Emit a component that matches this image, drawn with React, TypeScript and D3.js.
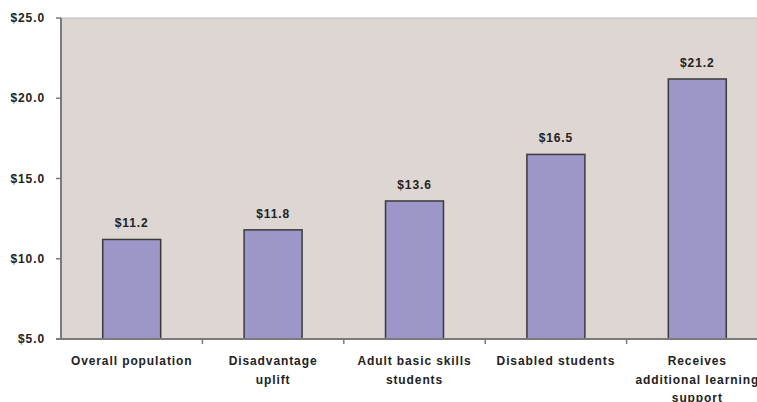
import * as d3 from "d3";
import { useEffect, useRef } from "react";

const categories = [
  ["Overall population"],
  ["Disadvantage", "uplift"],
  ["Adult basic skills", "students"],
  ["Disabled students"],
  ["Receives", "additional learning", "support"],
];
const values = [11.2, 11.8, 13.6, 16.5, 21.2];
const yTicks = [5, 10, 15, 20, 25];

const width = 757;
const height = 402;
const margin = { left: 61, top: 18, right: -11, bottom: 63 };

export default function App() {
  const svgRef = useRef<SVGSVGElement>(null);

  useEffect(() => {
    const svg = d3.select(svgRef.current);
    svg.selectAll("*").remove();

    const x = d3.scaleBand<number>()
      .domain(d3.range(values.length))
      .range([margin.left, width - margin.right])
      .paddingInner(0.59)
      .paddingOuter(0.295);
    const y = d3.scaleLinear().domain([5, 25]).range([height - margin.bottom, margin.top]);

    const font = "'Liberation Sans', Arial, sans-serif";
    const textStyle = (sel: any) => sel
      .attr("font-family", font)
      .attr("font-weight", "bold")
      .attr("font-size", "12px")
      .attr("letter-spacing", "0.9px")
      .attr("fill", "#222");

    // plot background
    svg.append("rect")
      .attr("x", margin.left)
      .attr("y", y(25))
      .attr("width", width - margin.right - margin.left)
      .attr("height", y(5) - y(25))
      .attr("fill", "#ddd6d3")
      .attr("stroke", "#bdb8b5")
      .attr("stroke-width", 1);

    // bars
    svg.append("g")
      .selectAll("rect")
      .data(values)
      .join("rect")
      .attr("x", (_, i) => x(i)!)
      .attr("y", d => y(d))
      .attr("width", x.bandwidth())
      .attr("height", d => y(5) - y(d))
      .attr("fill", "#9c96c9")
      .attr("stroke", "#3a3a3a")
      .attr("stroke-width", 1.5);

    // value labels
    svg.append("g")
      .selectAll("text")
      .data(values)
      .join("text")
      .attr("x", (_, i) => x(i)! + x.bandwidth() / 2)
      .attr("y", d => y(d) - 12)
      .attr("text-anchor", "middle")
      .call(textStyle)
      .text(d => `$${d.toFixed(1)}`);

    // y axis
    const axisColor = "#7a7a7a";
    svg.append("line")
      .attr("x1", margin.left).attr("x2", margin.left)
      .attr("y1", y(25)).attr("y2", y(5))
      .attr("stroke", axisColor).attr("stroke-width", 2);

    const yg = svg.append("g");
    yTicks.forEach(t => {
      yg.append("line")
        .attr("x1", margin.left - 5).attr("x2", margin.left)
        .attr("y1", y(t)).attr("y2", y(t))
        .attr("stroke", axisColor).attr("stroke-width", 1.5);
      yg.append("text")
        .attr("x", 45)
        .attr("y", y(t) + 4)
        .attr("text-anchor", "end")
        .call(textStyle)
        .text(`$${t.toFixed(1)}`);
    });

    // x axis
    svg.append("line")
      .attr("x1", margin.left - 5).attr("x2", width - margin.right)
      .attr("y1", y(5)).attr("y2", y(5))
      .attr("stroke", axisColor).attr("stroke-width", 2);

    const step = x.step();
    const xg = svg.append("g");
    d3.range(1, values.length).forEach(i => {
      const bx = x(i)! - (step - x.bandwidth()) / 2;
      xg.append("line")
        .attr("x1", bx).attr("x2", bx)
        .attr("y1", y(5)).attr("y2", y(5) + 5)
        .attr("stroke", axisColor).attr("stroke-width", 1.5);
    });

    categories.forEach((lines, i) => {
      const cx = x(i)! + x.bandwidth() / 2;
      const t = xg.append("text")
        .attr("x", cx)
        .attr("y", y(5) + 26)
        .attr("text-anchor", "middle")
        .call(textStyle);
      lines.forEach((l, j) => {
        t.append("tspan")
          .attr("x", cx)
          .attr("dy", j === 0 ? 0 : 18.5)
          .text(l);
      });
    });
  }, []);

  return (
    <svg
      ref={svgRef}
      width={width}
      height={height}
      style={{ position: "absolute", left: 0, top: 0, background: "#fff" }}
    />
  );
}
